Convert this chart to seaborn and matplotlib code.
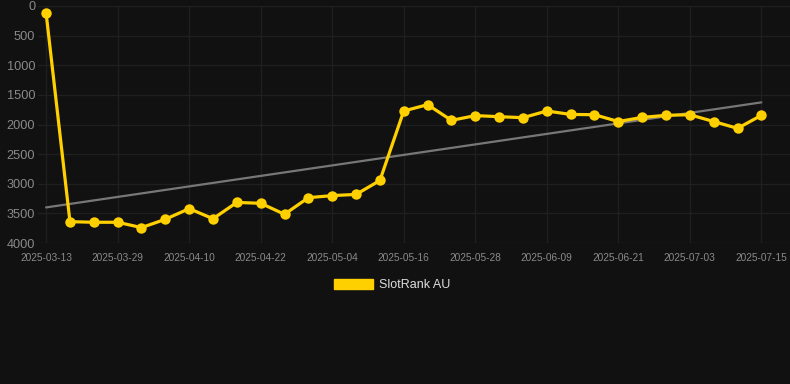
import numpy as np
import pandas as pd
import matplotlib.pyplot as plt
import seaborn as sns
from matplotlib.patches import Patch

# SlotRank AU ranking (lower = better)
dates = ['2025-03-13', '2025-03-21', '2025-03-25', '2025-03-29', '2025-04-02', '2025-04-06',
         '2025-04-10', '2025-04-14', '2025-04-18', '2025-04-22', '2025-04-26', '2025-04-30',
         '2025-05-04', '2025-05-08', '2025-05-12', '2025-05-16', '2025-05-20', '2025-05-24',
         '2025-05-28', '2025-06-01', '2025-06-05', '2025-06-09', '2025-06-13', '2025-06-17',
         '2025-06-21', '2025-06-25', '2025-06-29', '2025-07-03', '2025-07-07', '2025-07-11',
         '2025-07-15']
ranks = [120, 3640, 3650, 3650, 3740, 3600, 3420, 3590, 3315, 3330, 3515, 3235, 3200, 3180, 2945,
         1772, 1665, 1930, 1850, 1868, 1885, 1772, 1830, 1835, 1950, 1880, 1845, 1835, 1950, 2065,
         1845]
series_name = 'SlotRank AU'

bg = '#111111'
gold = '#FFD000'
sns.set_style('dark', {'axes.facecolor': bg, 'figure.facecolor': bg})
plt.rcParams['font.family'] = ['Liberation Sans', 'DejaVu Sans']

df = pd.DataFrame({'idx': np.arange(len(ranks)), 'rank': ranks})

fig = plt.figure(figsize=(7.9, 3.84), dpi=100)
ax = fig.add_axes([38 / 790, 1 - 243 / 384, 1 - 38 / 790, (243 - 6) / 384])

# trend line (linear fit)
k, b = np.polyfit(df['idx'], df['rank'], 1)
trend = k * df['idx'] + b
ax.plot(df['idx'], trend, color='#777777', lw=1.6, zorder=2)

sns.lineplot(data=df, x='idx', y='rank', ax=ax, color=gold, lw=2.3, marker='o',
             markersize=7.5, markeredgewidth=0, zorder=3)

ax.set_xlim(-0.34, 31.2)
ax.set_ylim(4000, 0)
ax.set_yticks(range(0, 4001, 500))
ticks = list(range(0, len(dates), 3))
ax.set_xticks(ticks)
ax.set_xticklabels([dates[i] for i in ticks])
ax.set_xlabel('')
ax.set_ylabel('')

ax.grid(True, color='#1f1f1f', lw=1)
for s in ax.spines.values():
    s.set_visible(False)
ax.tick_params(axis='y', labelcolor='#8a8a8a', labelsize=9.2, length=0, pad=2)
ax.tick_params(axis='x', labelcolor='#8a8a8a', labelsize=7.3, length=0, pad=7)

fig.legend(handles=[Patch(facecolor=gold, edgecolor=gold, label=series_name)],
           loc='center', bbox_to_anchor=(0.497, 1 - 285 / 384), frameon=False,
           labelcolor='#dddddd', fontsize=9, handlelength=3.1, handleheight=0.9,
           handletextpad=0.5)

fig.savefig('out.png', dpi=100, facecolor=bg)
